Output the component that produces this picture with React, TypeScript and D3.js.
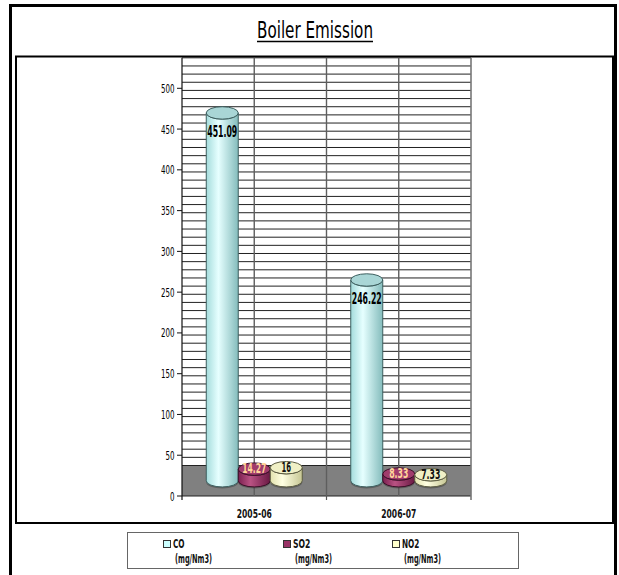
import React from 'react';
import * as d3 from 'd3';

const chartTitle = 'Boiler Emission';
const categories = ['2005-06', '2006-07'];
const seriesNames = ['CO', 'SO2', 'NO2'];
const seriesUnit = '(mg/Nm3)';
const coValues = [451.09, 246.22];
const so2Values = [14.27, 8.33];
const no2Values = [16, 7.33];
const coLabels = ['451.09', '246.22'];
const so2Labels = ['14.27', '8.33'];
const no2Labels = ['16', '7.33'];
const yTicks = [0, 50, 100, 150, 200, 250, 300, 350, 400, 450, 500];
const gridStep = 10;
const yMax = 500;

const W = 619;
const H = 575;
const NARROW = "'Liberation Sans Narrow', 'Arial Narrow', 'DejaVu Sans Condensed', sans-serif";

const seriesStyles = [
  { id: 'co', stops: ['#a4dcdc', '#e6ffff', '#84bcbc'], top: '#a9d6d6', stroke: '#3d5f5f', legend: '#ccffff', labelColor: '#000' },
  { id: 'so2', stops: ['#7b2050', '#b95283', '#691943'], top: '#a03c6c', stroke: '#3a0f27', legend: '#993366', labelColor: '#ffd59a' },
  { id: 'no2', stops: ['#e2e2ae', '#ffffe2', '#c6c694'], top: '#f0f0c6', stroke: '#5c5c42', legend: '#ffffcc', labelColor: '#111' },
];

export default function App() {
  const axisX = 182;
  const wallRight = 471;
  const depth = 30.5;
  const yFront = d3.scaleLinear().domain([0, yMax]).range([496, 88.3]);
  const yBack = (v: number) => yFront(v) - depth;
  const yMid = (v: number) => yFront(v) - depth / 2;

  const xCat = d3.scaleBand<string>().domain(categories).range([axisX, wallRight]).paddingInner(0).paddingOuter(0);
  const groupW = 96;
  const xSeries = d3.scaleBand<string>().domain(seriesNames).range([0, groupW]).padding(0);

  const values = [coValues, so2Values, no2Values];
  const labels = [coLabels, so2Labels, no2Labels];

  const gridVals = d3.range(0, yMax + 0.001, gridStep);
  const vLines = [
    ...categories.map((c) => (xCat(c) as number) + xCat.bandwidth() / 2),
    ...categories.slice(1).map((c) => xCat(c) as number),
  ];

  const rx = xSeries.bandwidth() / 2;
  const ry = 6.2;

  const legendX = [163, 283, 392];

  return (
    <svg width={W} height={H} style={{ position: 'absolute', left: 0, top: 0, background: '#fff' }}>
      <defs>
        {seriesStyles.map((s) => (
          <linearGradient key={s.id} id={'g-' + s.id} x1="0" x2="1" y1="0" y2="0">
            <stop offset="0%" stopColor={s.stops[0]} />
            <stop offset="38%" stopColor={s.stops[1]} />
            <stop offset="100%" stopColor={s.stops[2]} />
          </linearGradient>
        ))}
      </defs>
      <rect x={0} y={0} width={W} height={H} fill="#fff" />
      {/* outer border */}
      <rect x={10.5} y={5.5} width={605} height={600} fill="none" stroke="#000" strokeWidth={3} />
      {/* title */}
      <text x={315} y={37.5} textAnchor="middle" fontFamily={NARROW} fontSize={23} textLength={116} lengthAdjust="spacingAndGlyphs" fill="#000">
        {chartTitle}
      </text>
      <line x1={257} x2={373} y1={41.5} y2={41.5} stroke="#000" strokeWidth={1.5} />
      {/* plot box */}
      <rect x={16} y={56.5} width={597} height={466.5} fill="#fff" stroke="#000" strokeWidth={2} />

      {/* floor */}
      <rect x={axisX} y={yBack(0)} width={wallRight - axisX} height={depth} fill="#808080" />
      <line x1={axisX} x2={wallRight} y1={yBack(0)} y2={yBack(0)} stroke="#333" strokeWidth={1} />
      <line x1={axisX} x2={wallRight} y1={yFront(0)} y2={yFront(0)} stroke="#222" strokeWidth={1.2} />

      {/* horizontal gridlines on back wall */}
      {gridVals.map((v) => (
        <line key={'h' + v} x1={axisX} x2={wallRight} y1={yBack(v)} y2={yBack(v)} stroke="#222" strokeWidth={1} />
      ))}
      {/* vertical gridlines */}
      {vLines.map((x, i) => (
        <line key={'v' + i} x1={x} x2={x} y1={yBack(yMax)} y2={yFront(0)} stroke="#5e5e5e" strokeWidth={1.4} />
      ))}
      <line x1={wallRight} x2={wallRight} y1={yBack(yMax)} y2={yFront(0) + 4} stroke="#777" strokeWidth={1.6} />
      {categories.slice(1).map((c) => (
        <line key={'ct' + c} x1={xCat(c) as number} x2={xCat(c) as number} y1={yFront(0)} y2={yFront(0) + 4} stroke="#555" strokeWidth={1.2} />
      ))}

      {/* value axis */}
      <line x1={axisX} x2={axisX} y1={yBack(yMax)} y2={yFront(0) + 4} stroke="#111" strokeWidth={1.2} />
      {yTicks.map((t) => (
        <g key={'t' + t}>
          <line x1={axisX - 5} x2={axisX} y1={yFront(t)} y2={yFront(t)} stroke="#111" strokeWidth={1} />
          <text x={axisX - 7.5} y={yFront(t) + 4.5} textAnchor="end" fontFamily={NARROW} fontSize={12.5} textLength={String(t).length * 4.5} lengthAdjust="spacingAndGlyphs" fill="#000">
            {t}
          </text>
        </g>
      ))}

      {/* category labels */}
      {categories.map((c) => (
        <text key={'c' + c} x={(xCat(c) as number) + xCat.bandwidth() / 2} y={518} textAnchor="middle" fontFamily={NARROW} fontWeight="bold" fontSize={12.5} textLength={35} lengthAdjust="spacingAndGlyphs" fill="#111">
          {c}
        </text>
      ))}

      {/* cylinders */}
      {categories.map((c, ci) =>
        seriesNames.map((s, si) => {
          const st = seriesStyles[si];
          const v = values[si][ci];
          const cx0 = (xCat(c) as number) + xCat.bandwidth() / 2 - groupW / 2;
          const x0 = cx0 + (xSeries(s) as number);
          const x1 = x0 + xSeries.bandwidth();
          const yb = yMid(0);
          const yt = yMid(v);
          const body = `M${x0},${yt} L${x0},${yb} A${rx},${ry} 0 0 0 ${x1},${yb} L${x1},${yt} A${rx},${ry} 0 0 1 ${x0},${yt} Z`;
          const label = labels[si][ci];
          const big = v > 50;
          const ly = big ? yFront(v) + 2.5 : yt - 0.5;
          return (
            <g key={c + s}>
              <ellipse cx={(x0 + x1) / 2} cy={yb + 1.5} rx={rx} ry={ry} fill="#444" opacity={0.55} />
              <path d={body} fill={`url(#g-${st.id})`} stroke={st.stroke} strokeWidth={1} />
              <ellipse cx={(x0 + x1) / 2} cy={yt} rx={rx} ry={ry} fill={st.top} stroke={st.stroke} strokeWidth={1} />
              <text x={(x0 + x1) / 2} y={ly + (big ? 6 : 4.5)} textAnchor="middle" fontFamily={NARROW} fontWeight="bold" fontSize={big ? 16 : 13.5} textLength={label.length * (big ? 5 : 4.8)} lengthAdjust="spacingAndGlyphs" fill={st.labelColor}>
                {label}
              </text>
            </g>
          );
        })
      )}

      {/* legend */}
      <rect x={127.5} y={532.5} width={391} height={36} fill="#fff" stroke="#666" strokeWidth={1} />
      {seriesNames.map((s, i) => (
        <g key={'l' + s}>
          <rect x={legendX[i] + 0.5} y={540.5} width={7} height={7} fill={seriesStyles[i].legend} stroke="#333" strokeWidth={1} />
          <text x={legendX[i] + 10} y={548} fontFamily={NARROW} fontWeight="bold" fontSize={12.5} textLength={s.length * 5.8} lengthAdjust="spacingAndGlyphs" fill="#111">
            {s}
          </text>
          <text x={legendX[i] + 12} y={563} fontFamily={NARROW} fontWeight="bold" fontSize={12.5} textLength={37} lengthAdjust="spacingAndGlyphs" fill="#111">
            {seriesUnit}
          </text>
        </g>
      ))}
    </svg>
  );
}
